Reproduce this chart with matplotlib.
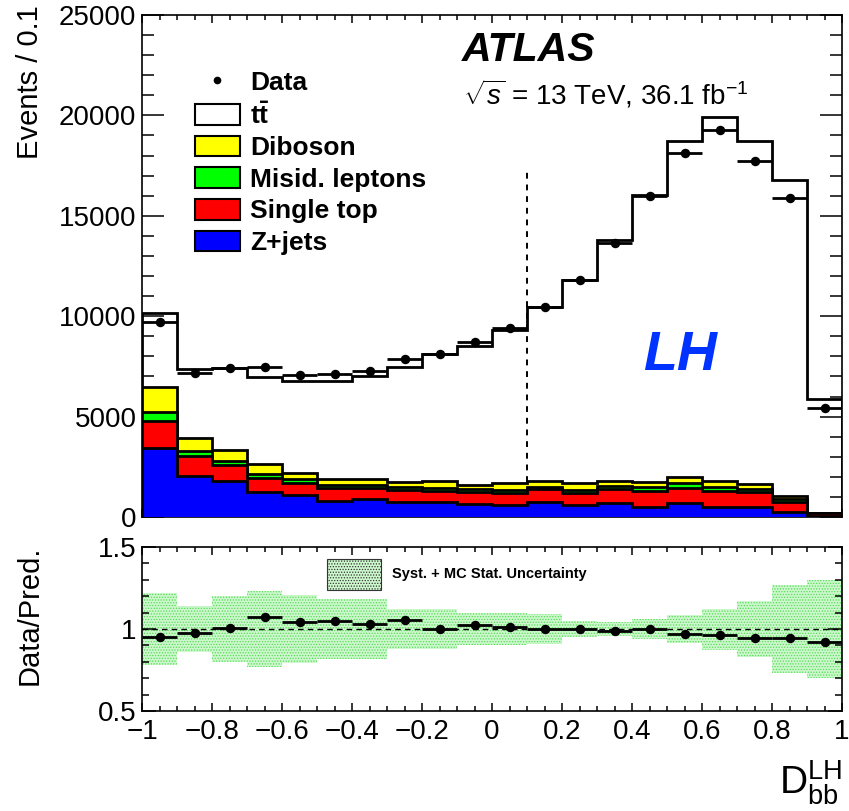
import numpy as np
import matplotlib
matplotlib.use("Agg")
import matplotlib.pyplot as plt
from matplotlib.patches import Patch, Rectangle
from matplotlib.lines import Line2D
from matplotlib.ticker import MultipleLocator, FixedLocator

plt.rcParams['font.family'] = ['Liberation Sans', 'DejaVu Sans']
plt.rcParams['mathtext.fontset'] = 'custom'
plt.rcParams['mathtext.rm'] = 'Liberation Sans'
plt.rcParams['mathtext.bf'] = 'Liberation Sans:bold'
plt.rcParams['mathtext.it'] = 'Liberation Sans:italic'
plt.rcParams['axes.unicode_minus'] = True
plt.rcParams['hatch.linewidth'] = 0.6

# 20 bins of width 0.1 in D_bb^LH
edges = np.round(np.linspace(-1.0, 1.0, 21), 2)
centers = 0.5 * (edges[:-1] + edges[1:])

# per-bin yields
zjets      = [3420, 2060, 1790, 1230, 1080, 800, 900, 750, 750, 650, 620, 730, 600, 680, 510, 680, 510, 510, 260, 30]
single_top = [1360, 980, 800, 730, 630, 630, 530, 590, 540, 580, 560, 650, 580, 700, 780, 780, 780, 750, 500, 150]
misid      = [430, 250, 200, 170, 180, 160, 160, 170, 150, 180, 160, 130, 160, 160, 220, 220, 220, 130, 120, 10]
diboson    = [1250, 640, 530, 510, 290, 290, 290, 250, 350, 180, 340, 280, 340, 250, 250, 300, 300, 250, 170, 10]
ttbar      = [3700, 3420, 4080, 4320, 4610, 4880, 5160, 5690, 6330, 6940, 7620, 8690, 10120, 12000, 14270, 16750, 18130, 17090, 15730, 5680]
data       = [9690, 7190, 7430, 7490, 7090, 7100, 7270, 7870, 8120, 8730, 9420, 10470, 11800, 13630, 16010, 18110, 19270, 17730, 15900, 5410]

# relative syst + MC stat uncertainty on the prediction
rel_unc = [0.22, 0.14, 0.20, 0.23, 0.21, 0.18, 0.18, 0.12, 0.12, 0.10, 0.095, 0.09, 0.05, 0.045, 0.06, 0.085, 0.125, 0.17, 0.27, 0.30]

cut_value = 0.1
cut_height = 17450

samples = [("Z+jets", zjets, "#0000ff"),
           ("Single top", single_top, "#ff0000"),
           ("Misid. leptons", misid, "#00ff00"),
           ("Diboson", diboson, "#ffff00"),
           (r"$\mathbf{t\bar{t}}$", ttbar, "white")]

fig = plt.figure(figsize=(8.49, 8.11), dpi=100)
ax = fig.add_axes([0.1673, 0.3625, 0.8245, 0.619])
rax = fig.add_axes([0.1673, 0.1233, 0.8245, 0.2022])

# cumulative stack, drawn from the top down like THStack
cum = np.cumsum([np.asarray(s[1], float) for s in samples], axis=0)
zs = {4: 1, 3: 4, 2: 5, 1: 6, 0: 7}
for i in range(len(samples) - 1, -1, -1):
    ax.stairs(cum[i], edges, baseline=0, fill=True, facecolor=samples[i][2],
              edgecolor="none", zorder=zs[i])
    ax.stairs(cum[i], edges, baseline=0, fill=False, color="black", lw=2.0,
              zorder=zs[i] + 0.5)

ax.plot([cut_value, cut_value], [0, cut_height], ls=(0, (3, 3)), color="black",
        lw=1.4, zorder=2)

data = np.asarray(data, float)
ax.errorbar(centers, data, xerr=0.05, fmt="o", color="black", ms=5.8, lw=2.0,
            capsize=0, zorder=10)

ax.set_xlim(-1, 1)
ax.set_ylim(0, 25000)
ax.yaxis.set_major_locator(MultipleLocator(5000))
ax.yaxis.set_minor_locator(MultipleLocator(1000))
ax.xaxis.set_major_locator(MultipleLocator(0.2))
ax.xaxis.set_minor_locator(MultipleLocator(0.05))
ax.tick_params(axis="x", labelbottom=False)

for a in (ax, rax):
    a.tick_params(which="both", direction="in", top=True, right=True,
                  width=1.1, labelsize=20)
    a.tick_params(axis="x", which="major", length=6)
    a.tick_params(axis="x", which="minor", length=3.5)
    for sp in a.spines.values():
        sp.set_linewidth(1.2)
ax.tick_params(axis="y", which="major", length=16, pad=4)
ax.tick_params(axis="y", which="minor", length=8.5)

# legend
handles = [Line2D([], [], marker="o", color="black", ls="none", ms=4.5)]
labels = ["Data"]
for name, vals, col in samples[::-1]:
    handles.append(Patch(facecolor=col, edgecolor="black", lw=1.5))
    labels.append(name)
leg = ax.legend(handles, labels, loc="upper left", bbox_to_anchor=(0.0757, 0.890),
                frameon=False, prop={"weight": "bold", "size": 19},
                handlelength=1.7, handleheight=0.83, handletextpad=0.38,
                labelspacing=0.27, borderaxespad=0, borderpad=0)
leg.set_zorder(20)

ax.text(0.457, 0.931, "ATLAS", transform=ax.transAxes, fontsize=29.5,
        fontweight="bold", fontstyle="italic", ha="left", va="center")
ax.text(0.459, 0.842, r"$\sqrt{s}$ = 13 TeV, 36.1 fb$^{-1}$", transform=ax.transAxes,
        fontsize=20, ha="left", va="center")
ax.text(0.715, 0.32, "LH", transform=ax.transAxes, fontsize=40, color="#0033ff",
        fontweight="bold", fontstyle="italic", ha="left", va="center", zorder=15)

# ratio panel
total = cum[-1]
ratio = data / total
rel_unc = np.asarray(rel_unc)
rax.bar(centers, 2 * rel_unc, bottom=1 - rel_unc, width=0.1, facecolor="#cdf8cd",
        edgecolor="#55dd55", hatch="......", lw=0, zorder=1)
rax.axhline(1.0, ls=(0, (4, 3)), color="black", lw=1.0, zorder=2)
rax.errorbar(centers, ratio, xerr=0.05, fmt="o", color="black", ms=5.8, lw=2.0,
             capsize=0, zorder=5)

rax.set_xlim(-1, 1)
rax.set_ylim(0.5, 1.5)
rax.yaxis.set_major_locator(FixedLocator([0.5, 1.0, 1.5]))
rax.yaxis.set_minor_locator(MultipleLocator(0.1))
rax.xaxis.set_major_locator(MultipleLocator(0.2))
rax.xaxis.set_minor_locator(MultipleLocator(0.05))
rax.set_yticklabels(["0.5", "1", "1.5"])
rax.set_xticks(np.round(np.arange(-1, 1.01, 0.2), 1))
rax.set_xticklabels(["\u22121", "\u22120.8", "\u22120.6", "\u22120.4", "\u22120.2", "0",
                     "0.2", "0.4", "0.6", "0.8", "1"])
rax.tick_params(axis="y", which="major", length=10, pad=4)
rax.tick_params(axis="y", which="minor", length=5)
rax.tick_params(axis="x", which="major", pad=6)

rax.add_patch(Rectangle((0.264, 0.738), 0.077, 0.189, transform=rax.transAxes,
                        facecolor="#cdf8cd", edgecolor="#333333", hatch="......",
                        lw=0.8, zorder=6))
rax.text(0.357, 0.835, "Syst. + MC Stat. Uncertainty", transform=rax.transAxes,
         fontsize=10.5, fontweight="bold", ha="left", va="center", zorder=6)

fig.text(30 / 849, 1 - 5 / 811, "Events / 0.1", rotation=90, ha="center", va="top",
         fontsize=21)
fig.text(30 / 849, 1 - 615 / 811, "Data/Pred.", rotation=90, ha="center", va="center",
         fontsize=21)
fig.text(842 / 849, 1 - 783 / 811, r"$\mathrm{D}_{\mathrm{bb}}^{\mathrm{LH}}$",
         ha="right", va="center", fontsize=28)

fig.savefig("out.png", dpi=100)
